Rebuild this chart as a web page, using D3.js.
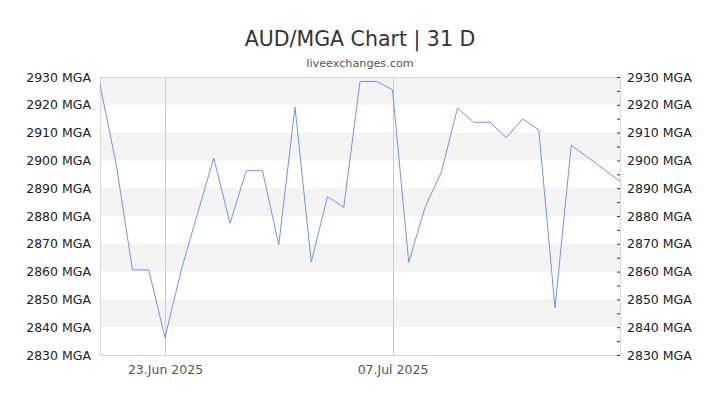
<!DOCTYPE html>
<html>
<head>
<meta charset="utf-8">
<script src="https://cdn.jsdelivr.net/npm/d3@7"></script>
<style>
  body { margin: 0; background: #fff; }
  svg { display: block; font-family: "DejaVu Sans", sans-serif; }
</style>
</head>
<body>
<div id="chart"></div>
<script>
// data (daily AUD/MGA rate)
const dates = [
    "2025-06-19", "2025-06-20", "2025-06-21", "2025-06-22", "2025-06-23", "2025-06-24",
    "2025-06-25", "2025-06-26", "2025-06-27", "2025-06-28", "2025-06-29", "2025-06-30",
    "2025-07-01", "2025-07-02", "2025-07-03", "2025-07-04", "2025-07-05", "2025-07-06",
    "2025-07-07", "2025-07-08", "2025-07-09", "2025-07-10", "2025-07-11", "2025-07-12",
    "2025-07-13", "2025-07-14", "2025-07-15", "2025-07-16", "2025-07-17", "2025-07-18",
    "2025-07-21"
];
const rates = [
    2927.2, 2898.5, 2860.6, 2860.6, 2836.2, 2860.6,
    2880.8, 2900.8, 2877.4, 2896.3, 2896.3, 2869.6,
    2919.2, 2863.4, 2887.0, 2883.1, 2928.4, 2928.4,
    2925.4, 2863.3, 2883.1, 2895.7, 2918.8, 2913.7,
    2913.7, 2908.2, 2914.9, 2911.0, 2847.0, 2905.5,
    2892.5
];
const xTickDates = ["2025-06-23", "2025-07-07"];
const yTicks = [2830, 2840, 2850, 2860, 2870, 2880, 2890, 2900, 2910, 2920, 2930];
const bandStarts = [2840, 2860, 2880, 2900, 2920];

const parse = d3.timeParse("%Y-%m-%d");
const data = dates.map((d, i) => ({date: parse(d), value: rates[i]}));

const width = 720, height = 405;
const margin = {top: 77, right: 100, bottom: 50, left: 100};
const innerW = width - margin.left - margin.right;
const innerH = height - margin.top - margin.bottom;

const svg = d3.select("#chart").append("svg")
    .attr("width", width)
    .attr("height", height);

// title + subtitle
svg.append("text")
    .attr("x", width / 2).attr("y", 46)
    .attr("text-anchor", "middle")
    .style("font-size", "20.5px")
    .style("fill", "#333")
    .text("AUD/MGA Chart | 31 D");

svg.append("text")
    .attr("x", width / 2).attr("y", 67)
    .attr("text-anchor", "middle")
    .style("font-size", "11.2px")
    .style("fill", "#555")
    .text("liveexchanges.com");

const x = d3.scaleTime()
    .domain([parse("2025-06-19"), parse("2025-07-21")])
    .range([0, innerW]);

const y = d3.scaleLinear()
    .domain([2830, 2930])
    .range([innerH, 0]);

const g = svg.append("g")
    .attr("transform", `translate(${margin.left},${margin.top})`);

// alternating bands
g.selectAll("rect.band")
    .data(bandStarts)
    .enter().append("rect")
    .attr("class", "band")
    .attr("x", 0)
    .attr("width", innerW)
    .attr("y", d => y(d + 10))
    .attr("height", d => y(d) - y(d + 10))
    .attr("fill", "#f3f3f3");

// vertical grid lines
g.selectAll("line.vgrid")
    .data(xTickDates.map(parse))
    .enter().append("line")
    .attr("class", "vgrid")
    .attr("x1", d => Math.round(x(d)) + 0.5)
    .attr("x2", d => Math.round(x(d)) + 0.5)
    .attr("y1", 0).attr("y2", innerH)
    .attr("stroke", "#ccc");

// plot border
g.append("rect")
    .attr("x", 0.5).attr("y", 0.5)
    .attr("width", innerW).attr("height", innerH)
    .attr("fill", "none")
    .attr("stroke", "#d6d6d6");

// line
const line = d3.line()
    .x(d => x(d.date))
    .y(d => y(d.value));

g.append("path")
    .datum(data)
    .attr("d", line)
    .attr("fill", "none")
    .attr("stroke", "#6a97ea")
    .attr("stroke-width", 1);

// left axis (labels only)
const yLeft = g.append("g")
    .call(d3.axisLeft(y).tickValues(yTicks).tickSize(0).tickPadding(9)
        .tickFormat(d => d + " MGA"));
yLeft.select(".domain").remove();
yLeft.selectAll("text").style("font-size", "12.5px").style("fill", "#222")
    .style("font-family", "DejaVu Sans, sans-serif");

// right axis: minor ticks every 5 inside, labels every 10
const minorTicks = d3.range(2830, 2931, 5);
const yRightTicks = g.append("g")
    .attr("transform", `translate(${innerW},0)`)
    .call(d3.axisLeft(y).tickValues(minorTicks).tickSize(3).tickFormat(""));
yRightTicks.select(".domain").remove();
yRightTicks.selectAll("line").attr("stroke", "#333");

const yRight = g.append("g")
    .attr("transform", `translate(${innerW},0)`)
    .call(d3.axisRight(y).tickValues(yTicks).tickSize(0).tickPadding(7)
        .tickFormat(d => d + " MGA"));
yRight.select(".domain").remove();
yRight.selectAll("text").style("font-size", "12.5px").style("fill", "#222")
    .style("font-family", "DejaVu Sans, sans-serif");

// bottom axis (labels only)
const xAxis = g.append("g")
    .attr("transform", `translate(0,${innerH})`)
    .call(d3.axisBottom(x).tickValues(xTickDates.map(parse)).tickSize(0).tickPadding(10)
        .tickFormat(d3.timeFormat("%d.%b %Y")));
xAxis.select(".domain").remove();
xAxis.selectAll("text").style("font-size", "12.5px").style("fill", "#555")
    .style("font-family", "DejaVu Sans, sans-serif");
</script>
</body>
</html>
